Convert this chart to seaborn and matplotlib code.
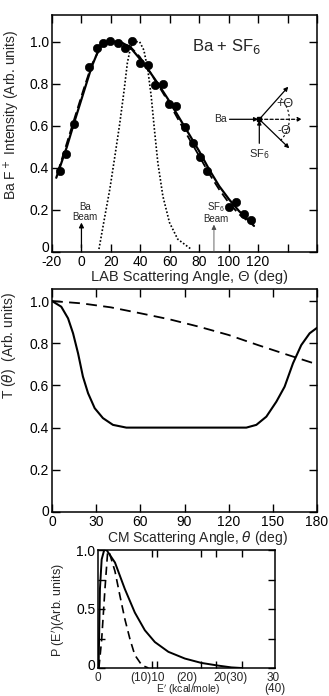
import numpy as np
import pandas as pd
import matplotlib
matplotlib.use("Agg")
import matplotlib.pyplot as plt
from matplotlib.patches import Arc
from matplotlib.transforms import ScaledTranslation
import seaborn as sns

# ---------------- data ----------------
# Top panel: LAB angular distribution
LAB_DOT_X = [-14.4, -10.3, -4.9, 4.9, 10.3, 14.8, 19.3, 24.5, 29.4, 34.6, 40.0, 45.4,
             49.7, 55.3, 59.8, 64.3, 70.0, 75.5, 80.5, 85.0, 100.3, 105.3, 110.4, 115.4]
LAB_DOT_Y = [0.385, 0.468, 0.609, 0.878, 0.968, 0.995, 1.003, 0.995, 0.971, 1.003, 0.900, 0.890,
             0.795, 0.797, 0.705, 0.695, 0.593, 0.519, 0.450, 0.385, 0.216, 0.239, 0.179, 0.153]

LAB_SOLID_X = [-17.1, -9.9, -4.3, 1.3, 6.9, 12.5, 19.3, 26.0, 32.8, 39.5, 46.3, 53.0,
               59.8, 66.5, 73.3, 80.0, 86.7, 93.5, 100.3, 107.0, 113.8, 117.2]
LAB_SOLID_Y = [0.353, 0.500, 0.630, 0.755, 0.880, 0.976, 1.000, 1.000, 0.976, 0.920, 0.858, 0.790,
               0.716, 0.637, 0.558, 0.479, 0.393, 0.314, 0.250, 0.195, 0.148, 0.124]

LAB_DASH_X = [-16.2, -9.9, -4.3, 1.3, 6.9, 12.5, 19.3, 26.0, 32.8, 39.5, 46.3, 53.0,
              59.8, 66.5, 73.3, 80.0, 86.7, 93.5, 100.3, 107.0, 113.8]
LAB_DASH_Y = [0.377, 0.518, 0.645, 0.770, 0.889, 0.968, 1.000, 0.998, 0.979, 0.929, 0.858, 0.784,
              0.705, 0.621, 0.537, 0.456, 0.373, 0.298, 0.232, 0.180, 0.143]

BEAM_X = [11.9, 15.9, 19.3, 22.7, 26.0, 29.0, 31.2, 33.5, 36.2, 39.5, 42.4, 45.1,
          47.4, 49.6, 51.9, 55.3, 59.8, 65.4, 74.4]
BEAM_Y = [0.014, 0.17, 0.30, 0.455, 0.61, 0.77, 0.90, 0.976, 1.0, 1.0, 0.96, 0.866,
          0.74, 0.58, 0.424, 0.266, 0.14, 0.061, 0.014]

LAB_XTICKS = [-20, 0, 20, 40, 60, 80, 100, 120, 140, 160]
LAB_XTICKLABELS = ["-20", "0", "20", "40", "60", "80", "100", "120", "", ""]
LAB_YTICKS = [0, 0.2, 0.4, 0.6, 0.8, 1.0]
LAB_YTICKLABELS = ["0", "0.2", "0.4", "0.6", "0.8", "1.0"]
BA_BEAM_ANGLE = 0
SF6_BEAM_ANGLE = 90

# Middle panel: CM angular distribution T(theta)
CM_SOLID_X = [0, 6.3, 10.9, 14.3, 17.7, 21.0, 24.5, 29.0, 34.6, 41.4, 50.5,
              132.0, 138.8, 145.6, 152.4, 158.0, 163.7, 169.3, 175.0, 180.0]
CM_SOLID_Y = [1.0, 0.973, 0.918, 0.847, 0.752, 0.642, 0.563, 0.492, 0.445, 0.413, 0.400,
              0.400, 0.413, 0.452, 0.523, 0.594, 0.705, 0.791, 0.847, 0.873]
CM_DASH_X = [0, 20, 40, 60, 80, 100, 120, 140, 160, 180]
CM_DASH_Y = [1.0, 0.989, 0.970, 0.942, 0.913, 0.878, 0.839, 0.791, 0.745, 0.700]
CM_XTICKS = [0, 30, 60, 90, 120, 150, 180]
CM_YTICKS = [0, 0.2, 0.4, 0.6, 0.8, 1.0]
CM_YTICKLABELS = ["0", "0.2", "0.4", "0.6", "0.8", "1.0"]

# Bottom panel: translational energy distribution P(E')
E_SOLID_X = [0.05, 0.28, 0.57, 1.0, 1.4, 2.83, 4.5, 6.2, 7.9, 9.6, 11.9, 14.7, 17.5, 20.4, 22.6, 24.3]
E_SOLID_Y = [0.0, 0.67, 0.92, 1.0, 1.0, 0.894, 0.67, 0.47, 0.32, 0.22, 0.137, 0.08, 0.043, 0.02, 0.005, 0.0]
E_DASH_X = [0.1, 0.57, 1.13, 1.58, 1.8, 2.83, 3.68, 4.53, 5.4, 6.2, 7.4, 8.5]
E_DASH_Y = [0.0, 0.24, 0.67, 0.98, 0.99, 0.82, 0.61, 0.41, 0.24, 0.11, 0.023, 0.0]
E_TICKS = [9.1, 10.0, 17.5, 20.0, 24.4]
E_LABEL_POS = [0.0, 8.3, 15.1, 22.4, 29.7, 29.9]
E_LABELS = ["0", "(10)10", "(20)", "20(30)", "30", "(40)"]
E_LABEL_ROW = [0, 0, 0, 0, 0, 1]
E_YTICKS = [0, 0.25, 0.5, 0.75, 1.0]
E_YTICKLABELS = ["0", "", "0.5", "", "1.0"]

# ---------------- style ----------------
sns.set_theme(style="ticks")
plt.rcParams["font.family"] = ["Liberation Sans", "DejaVu Sans"]
plt.rcParams["mathtext.fontset"] = "dejavusans"
plt.rcParams["axes.linewidth"] = 1.1

W, H = 329, 696
fig = plt.figure(figsize=(W / 100, H / 100), dpi=100)


def frac(left, top, right, bottom):
    return [left / W, 1 - bottom / H, (right - left) / W, (bottom - top) / H]


def style_axes(ax, size=10, length=6):
    ax.tick_params(direction="in", top=True, right=True, length=length, width=1.0,
                   labelsize=size, pad=2, colors="black")
    for s in ax.spines.values():
        s.set_color("black")
        s.set_linewidth(1.1)


def lift_zero(ax, px=3):
    # the "0" y tick label sits slightly above the corner in the reference
    off = ScaledTranslation(0, px / 100, fig.dpi_scale_trans)
    for lab in ax.get_yticklabels():
        if lab.get_text() == "0":
            lab.set_transform(lab.get_transform() + off)


K = "black"

# ---------------- top panel ----------------
ax1 = fig.add_axes(frac(52, 15, 317, 252))
lab_solid = pd.DataFrame({"x": LAB_SOLID_X, "y": LAB_SOLID_Y})
lab_dash = pd.DataFrame({"x": LAB_DASH_X, "y": LAB_DASH_Y})
beam = pd.DataFrame({"x": BEAM_X, "y": BEAM_Y})
dots = pd.DataFrame({"x": LAB_DOT_X, "y": LAB_DOT_Y})
sns.lineplot(data=lab_solid, x="x", y="y", ax=ax1, color=K, lw=1.6, sort=False)
sns.lineplot(data=lab_dash, x="x", y="y", ax=ax1, color=K, lw=1.3, sort=False,
             linestyle=(0, (5, 2.5)))
sns.lineplot(data=beam, x="x", y="y", ax=ax1, color=K, lw=1.2, sort=False,
             linestyle=(0, (1, 1.2)))
sns.scatterplot(data=dots, x="x", y="y", ax=ax1, color=K, s=36, edgecolor=K, zorder=5)
ax1.set_xlim(-20, 160)
ax1.set_ylim(0, 1.127)
ax1.set_xticks(LAB_XTICKS)
ax1.set_xticklabels(LAB_XTICKLABELS)
ax1.set_yticks(LAB_YTICKS)
ax1.set_yticklabels(LAB_YTICKLABELS)
style_axes(ax1)
lift_zero(ax1, 5)
ax1.set_xlabel("LAB Scattering Angle, Θ (deg)", fontsize=10.5)
ax1.xaxis.set_label_coords(0.52, -0.077)
ax1.set_ylabel("Ba F$^+$ Intensity (Arb. units)", fontsize=10)
ax1.yaxis.set_label_coords(-0.115, 0.578)
ax1.text(0.658, 0.868, "Ba + SF$_6$", transform=ax1.transAxes, fontsize=12,
         ha="center", va="center")

# beam arrows
arr = dict(arrowstyle="-|>", mutation_scale=7, lw=0.9, color=K, shrinkA=0, shrinkB=0)
ax1.annotate("", xy=(BA_BEAM_ANGLE, 0.14), xytext=(BA_BEAM_ANGLE, 0.02), arrowprops=arr)
ax1.text(BA_BEAM_ANGLE + 2.4, 0.19, "Ba\nBeam", fontsize=7, ha="center", va="center",
         linespacing=0.9)
ax1.annotate("", xy=(SF6_BEAM_ANGLE, 0.13), xytext=(SF6_BEAM_ANGLE, 0.0),
             arrowprops=dict(arr, lw=0.6, color="0.3"))
ax1.text(SF6_BEAM_ANGLE + 1.4, 0.19, "S$\\mathregular{F_6}$\nBeam", fontsize=7,
         ha="center", va="center", linespacing=0.9)

# inset scattering diagram (pixel-scaled coordinates)
ins = ax1.inset_axes([(212 - 52) / 265, (252 - 160) / 237, 96 / 265, 80 / 237])
ins.set_xlim(0, 96)
ins.set_ylim(0, 80)
ins.axis("off")
cx, cy = 47.3, 40.7
a2 = dict(arrowstyle="-|>", mutation_scale=6, lw=0.9, color=K, shrinkA=0, shrinkB=0)
ins.annotate("", xy=(cx - 1, cy), xytext=(17.5, cy), arrowprops=a2)
ins.annotate("", xy=(76.3, 73.3), xytext=(cx, cy), arrowprops=a2)
ins.annotate("", xy=(77.3, 11.7), xytext=(cx, cy), arrowprops=a2)
ins.annotate("", xy=(cx, cy - 1), xytext=(cx, 16.7), arrowprops=a2)
ins.annotate("", xy=(90, cy), xytext=(cx, cy),
             arrowprops=dict(a2, linestyle=(0, (2.5, 1.8))))
ins.plot([cx], [cy], marker="s", ms=2.5, color=K)
ins.add_patch(Arc((cx, cy), 60, 60, theta1=-45, theta2=45, lw=0.8, color=K,
                  linestyle=(0, (2, 2))))
ins.text(8, cy, "Ba", fontsize=7.5, ha="center", va="center")
ins.text(cx, 5.5, "SF$_6$", fontsize=8, ha="center", va="center")
ins.text(73, 56, "+Θ", fontsize=9, ha="center", va="center")
ins.text(72, 29, "-Θ", fontsize=9, ha="center", va="center")

# ---------------- middle panel ----------------
ax2 = fig.add_axes(frac(52, 289, 317, 512))
cm_solid = pd.DataFrame({"x": CM_SOLID_X, "y": CM_SOLID_Y})
cm_dash = pd.DataFrame({"x": CM_DASH_X, "y": CM_DASH_Y})
sns.lineplot(data=cm_solid, x="x", y="y", ax=ax2, color=K, lw=1.5, sort=False)
sns.lineplot(data=cm_dash, x="x", y="y", ax=ax2, color=K, lw=1.3, sort=False,
             linestyle=(0, (6, 3.5)))
ax2.set_xlim(0, 180)
ax2.set_ylim(0, 1.057)
ax2.set_xticks(CM_XTICKS)
ax2.set_yticks(CM_YTICKS)
ax2.set_yticklabels(CM_YTICKLABELS)
style_axes(ax2)
lift_zero(ax2, 2)
ax2.set_xlabel("CM Scattering Angle, $\\theta$ (deg)", fontsize=10)
ax2.xaxis.set_label_coords(0.547, -0.078)
ax2.set_ylabel("T ($\\theta$)  (Arb. units)", fontsize=10)
ax2.yaxis.set_label_coords(-0.13, 0.744)

# ---------------- bottom panel ----------------
ax3 = fig.add_axes(frac(98.3, 550, 275, 668))
e_solid = pd.DataFrame({"x": E_SOLID_X, "y": E_SOLID_Y})
e_dash = pd.DataFrame({"x": E_DASH_X, "y": E_DASH_Y})
sns.lineplot(data=e_solid, x="x", y="y", ax=ax3, color=K, lw=1.4, sort=False)
sns.lineplot(data=e_dash, x="x", y="y", ax=ax3, color=K, lw=1.2, sort=False,
             linestyle=(0, (5, 3)))
ax3.set_xlim(0, 30)
ax3.set_ylim(0, 1.0)
ax3.set_xticks(E_TICKS)
ax3.set_xticklabels([])
ax3.set_yticks(E_YTICKS)
ax3.set_yticklabels(E_YTICKLABELS)
style_axes(ax3, size=10, length=5)
lift_zero(ax3, 3)
for pos, lab, row in zip(E_LABEL_POS, E_LABELS, E_LABEL_ROW):
    ax3.text(pos, -0.03 - row * 0.095, lab, transform=ax3.get_xaxis_transform(),
             ha="center", va="top", fontsize=8.5)
ax3.set_xlabel("")
ax3.text(15.2, -0.122, "E$'$ (kcal/mole)", transform=ax3.get_xaxis_transform(),
         ha="center", va="top", fontsize=7.5)
ax3.set_ylabel("P (E$'$)(Arb. units)", fontsize=9)
ax3.yaxis.set_label_coords(-0.177, 0.49)

fig.savefig("out.png", dpi=100)
